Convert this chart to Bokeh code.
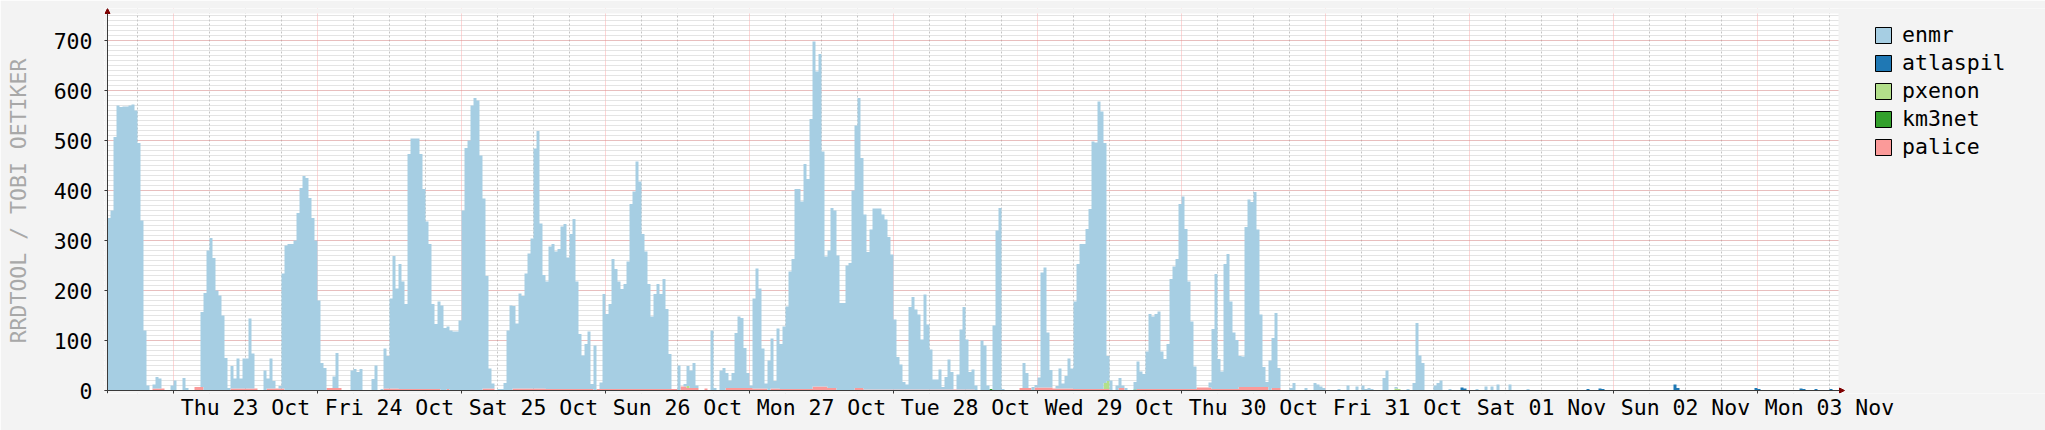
from datetime import datetime, timedelta

import numpy as np
from bokeh.plotting import figure
from bokeh.models import (ColumnDataSource, Range1d, FixedTicker, SingleIntervalTicker,
                          DatetimeTickFormatter, Legend, LegendItem, Arrow, NormalHead)
from bokeh.embed import file_html
from bokeh.resources import INLINE

# ---------------- data (30-minute steps starting 22 Oct 2025 13:00) ----------------
START = datetime(2025, 10, 22, 13, 0)
END = datetime(2025, 11, 3, 13, 30)
STEP_MINUTES = 30

series_names = ["enmr", "atlaspil", "pxenon", "km3net", "palice"]
series_colors = ["#a6cee3", "#1f78b4", "#b2df8a", "#33a02c", "#fb9a99"]

enmr = [
    345, 360, 507, 570, 567, 568, 568, 570, 572, 560,
    495, 340, 120, 10, 0, 8, 23, 20, 0, 0,
    0, 10, 20, 0, 0, 25, 5, 0, 0, 0,
    0, 150, 195, 280, 305, 265, 200, 190, 150, 65,
    5, 45, 20, 60, 20, 60, 60, 140, 70, 0,
    0, 0, 40, 20, 60, 15, 0, 5, 230, 290,
    293, 293, 300, 355, 405, 429, 425, 385, 345, 300,
    180, 55, 45, 0, 0, 23, 70, 0, 0, 0,
    0, 40, 43, 37, 43, 0, 0, 0, 23, 50,
    0, 3, 80, 65, 180, 265, 200, 250, 215, 170,
    470, 501, 501, 501, 470, 400, 335, 290, 170, 130,
    175, 170, 125, 125, 120, 118, 118, 140, 360, 485,
    500, 570, 585, 580, 470, 380, 225, 40, 10, 0,
    3, 3, 15, 120, 170, 165, 130, 190, 185, 230,
    270, 300, 480, 515, 330, 227, 215, 285, 290, 275,
    280, 325, 330, 263, 310, 340, 215, 110, 67, 90,
    115, 10, 90, 0, 13, 190, 150, 170, 260, 240,
    215, 200, 210, 255, 370, 395, 455, 415, 310, 275,
    210, 145, 190, 210, 190, 220, 160, 70, 0, 0,
    50, 0, 5, 40, 35, 50, 5, 0, 0, 0,
    0, 120, 5, 0, 40, 45, 30, 15, 30, 110,
    143, 140, 80, 30, 5, 180, 240, 200, 80, 10,
    60, 100, 15, 120, 90, 125, 165, 235, 260, 400,
    400, 375, 450, 420, 540, 690, 630, 665, 470, 260,
    275, 360, 355, 270, 175, 175, 250, 255, 400, 525,
    580, 460, 350, 275, 320, 362, 362, 362, 350, 340,
    305, 270, 140, 65, 50, 15, 10, 165, 185, 160,
    150, 100, 190, 130, 80, 20, 20, 40, 5, 25,
    60, 35, 0, 30, 120, 165, 100, 35, 40, 10,
    0, 100, 90, 10, 0, 130, 320, 365, 3, 0,
    0, 0, 0, 0, 0, 50, 30, 0, 7, 5,
    20, 230, 240, 110, 35, 0, 5, 40, 10, 25,
    60, 40, 175, 250, 290, 290, 320, 360, 495, 493,
    575, 555, 480, 50, 20, 0, 10, 20, 5, 5,
    0, 0, 15, 55, 35, 30, 75, 150, 145, 150,
    155, 75, 60, 90, 220, 245, 260, 370, 385, 320,
    215, 135, 45, 0, 0, 0, 0, 10, 120, 230,
    60, 35, 250, 270, 175, 113, 98, 62, 61, 320,
    375, 370, 390, 315, 145, 40, 10, 60, 100, 150,
    40, 0, 0, 0, 5, 15, 0, 0, 0, 5,
    0, 0, 15, 12, 8, 5, 0, 0, 0, 0,
    3, 0, 0, 10, 0, 0, 8, 0, 10, 3,
    5, 3, 0, 0, 0, 25, 40, 0, 0, 3,
    0, 0, 0, 3, 0, 15, 135, 70, 55, 0,
    0, 0, 10, 15, 20, 0, 0, 3, 0, 0,
    0, 0, 0, 0, 0, 0, 3, 0, 0, 8,
    0, 8, 0, 12, 0, 0, 0, 12, 0, 0,
    0, 0, 0, 3, 0, 0, 0, 0, 0, 0,
] + [0] * 97

N = len(enmr)

# sparse series: {step index: value}
atlaspil_points = {451: 6, 452: 4, 493: 3, 497: 4, 498: 3, 522: 12, 523: 5,
                   549: 5, 550: 3, 564: 4, 565: 3, 569: 3, 574: 3}
pxenon_points = {193: 4, 332: 12, 333: 16, 429: 4, 430: 3}
km3net_points = {294: 3, 342: 2}
palice_segments = [  # (first step, last step, value)
    (15, 18, 4), (29, 31, 7), (41, 49, 4), (53, 58, 4), (73, 77, 5), (92, 96, 4),
    (97, 110, 3), (113, 113, 3), (125, 128, 4), (135, 145, 4), (146, 161, 3),
    (163, 189, 3), (191, 192, 8), (193, 196, 5), (199, 199, 4), (206, 214, 5),
    (215, 219, 4), (221, 223, 4), (224, 234, 3), (235, 239, 8), (240, 242, 5),
    (249, 251, 5), (252, 288, 2), (304, 307, 5), (309, 314, 6), (315, 321, 4),
    (322, 333, 3), (337, 338, 5), (343, 362, 3), (363, 367, 6), (368, 376, 3),
    (377, 386, 7), (388, 390, 5),
]


def from_points(points):
    arr = np.zeros(N)
    for k, v in points.items():
        arr[k] = v
    return arr


atlaspil = from_points(atlaspil_points)
pxenon = from_points(pxenon_points)
km3net = from_points(km3net_points)
palice = np.zeros(N)
for a, b, v in palice_segments:
    palice[a:b + 1] = v

# ---------------- figure ----------------
W, H = 2045, 430
LEFT, TOP, BOTTOM = 104, 8, 393      # frame edges in pixels
PX_PER_HOUR = 6.0
FONT = "DejaVu Sans Mono"
FS = "21.5px"
AXIS_COLOR = "#3a3a3a"
BG = "#f3f3f3"
Y_TOP = 754                              # top of the graph canvas
X0 = START - timedelta(minutes=30)       # room for the axis stub / arrow head
X1 = END + timedelta(hours=1)            # tip of the x-axis arrow
XF = X0 + timedelta(hours=(W - LEFT) / PX_PER_HOUR)   # far right (legend area)
Y0, Y1 = -6, 764

p = figure(width=W, height=H, x_axis_type="datetime", output_backend="svg",
           toolbar_location=None, x_range=Range1d(X0, XF), y_range=Range1d(Y0, Y1),
           min_border_left=LEFT, min_border_right=0, min_border_top=TOP,
           min_border_bottom=H - BOTTOM)
p.border_fill_color = BG
p.background_fill_color = "white"
p.outline_line_color = None

edges = [START + timedelta(minutes=STEP_MINUTES * i) for i in range(N + 1)]

stack_order = [("palice", palice), ("km3net", km3net), ("pxenon", pxenon),
               ("atlaspil", atlaspil), ("enmr", np.array(enmr, dtype=float))]
color_of = dict(zip(series_names, series_colors))
base = np.zeros(N)
for name, vals in stack_order:
    top = base + vals
    src = ColumnDataSource(dict(x=edges, y1=np.append(base, base[-1]), y2=np.append(top, top[-1])))
    p.varea_step(x="x", y1="y1", y2="y2", step_mode="after", source=src,
                 fill_color=color_of[name])
    base = top

# background strips around the graph canvas
cover = ColumnDataSource(dict(left=[X0, X0, END, X0], right=[START, XF, XF, XF],
                              bottom=[Y0, Y_TOP, Y0, Y0], top=[Y1, Y1, Y1, 0]))
p.quad(left="left", right="right", bottom="bottom", top="top", source=cover,
       fill_color=BG, line_color=None)


def ms(dt):
    return (dt - datetime(1970, 1, 1)).total_seconds() * 1000.0


day0 = datetime(2025, 10, 23)
midnights = [ms(day0 + timedelta(days=d)) for d in range(0, 12)]
noons = [ms(day0 + timedelta(days=d, hours=12)) for d in range(0, 12)]
six_hours = [ms(datetime(2025, 10, 22, 18) + timedelta(hours=6 * k)) for k in range(0, 48)]
six_hours = [t for t in six_hours if t not in midnights and t < ms(END)]

# x axis
xa = p.xaxis[0]
xa.ticker = FixedTicker(ticks=noons, minor_ticks=midnights)
fmt = "%a %d %b"
xa.formatter = DatetimeTickFormatter(milliseconds=fmt, seconds=fmt, minsec=fmt, minutes=fmt,
                                     hourmin=fmt, hours=fmt, days=fmt, months=fmt, years=fmt)
xa.major_tick_out = 0
xa.major_tick_in = 0
xa.minor_tick_out = 0
xa.minor_tick_in = 3
xa.minor_tick_line_color = AXIS_COLOR
xa.axis_line_color = None
xa.major_label_standoff = 1
xa.major_label_text_font = FONT
xa.major_label_text_font_size = FS
xa.major_label_text_color = "black"

# y axis
ya = p.yaxis[0]
ya.ticker = SingleIntervalTicker(interval=100, num_minor_ticks=10)
ya.major_tick_out = 0
ya.major_tick_in = 3
ya.minor_tick_out = 0
ya.minor_tick_in = 0
ya.major_tick_line_color = AXIS_COLOR
ya.axis_line_color = None
ya.major_label_standoff = 12
ya.major_label_text_font = FONT
ya.major_label_text_font_size = FS
ya.major_label_text_color = "black"
# rrdtool watermark along the left edge
ya.axis_label = "RRDTOOL / TOBI OETIKER"
ya.axis_label_standoff = 20
ya.axis_label_text_font = FONT
ya.axis_label_text_font_size = FS
ya.axis_label_text_font_style = "normal"
ya.axis_label_text_color = "#a8a8a8"

# grids
xg = p.xgrid[0]
xg.ticker = FixedTicker(ticks=midnights, minor_ticks=six_hours)
xg.grid_line_color = "#ff0000"
xg.grid_line_alpha = 0.33
xg.grid_line_dash = "1 1"
xg.minor_grid_line_color = "#c4c4c4"
xg.minor_grid_line_dash = "2 2"

yg = p.ygrid[0]
yg.grid_line_color = "#ff0000"
yg.grid_line_alpha = 0.33
yg.grid_line_dash = "1 1"
yg.minor_grid_line_color = "#c8c8c8"
yg.minor_grid_line_dash = "1 1"

# axis lines with arrow heads
arrow_col = "#7f0000"
p.add_layout(Arrow(end=NormalHead(size=5, fill_color=arrow_col, line_color=arrow_col),
                   x_start=START, y_start=Y0, x_end=START, y_end=Y1,
                   line_color=AXIS_COLOR, line_width=1))
p.add_layout(Arrow(end=NormalHead(size=5, fill_color=arrow_col, line_color=arrow_col),
                   x_start=X0, y_start=0, x_end=X1, y_end=0,
                   line_color=AXIS_COLOR, line_width=1))

# legend (swatches with black outline; their glyphs lie outside the visible range)
items = []
for name, col in zip(series_names, series_colors):
    r = p.quad(left=[START], right=[START], top=[-30], bottom=[-40],
               fill_color=col, line_color="black", line_width=1)
    items.append(LegendItem(label=name, renderers=[r]))
legend = Legend(items=items, location=(1769, 234), orientation="vertical",
                padding=0, margin=0, spacing=3, glyph_width=20, glyph_height=20,
                label_standoff=9, label_text_font=FONT, label_text_font_size=FS,
                label_text_color="black", border_line_color=None, background_fill_alpha=0)
p.add_layout(legend)

open("out.html", "w").write(file_html(p, INLINE))
